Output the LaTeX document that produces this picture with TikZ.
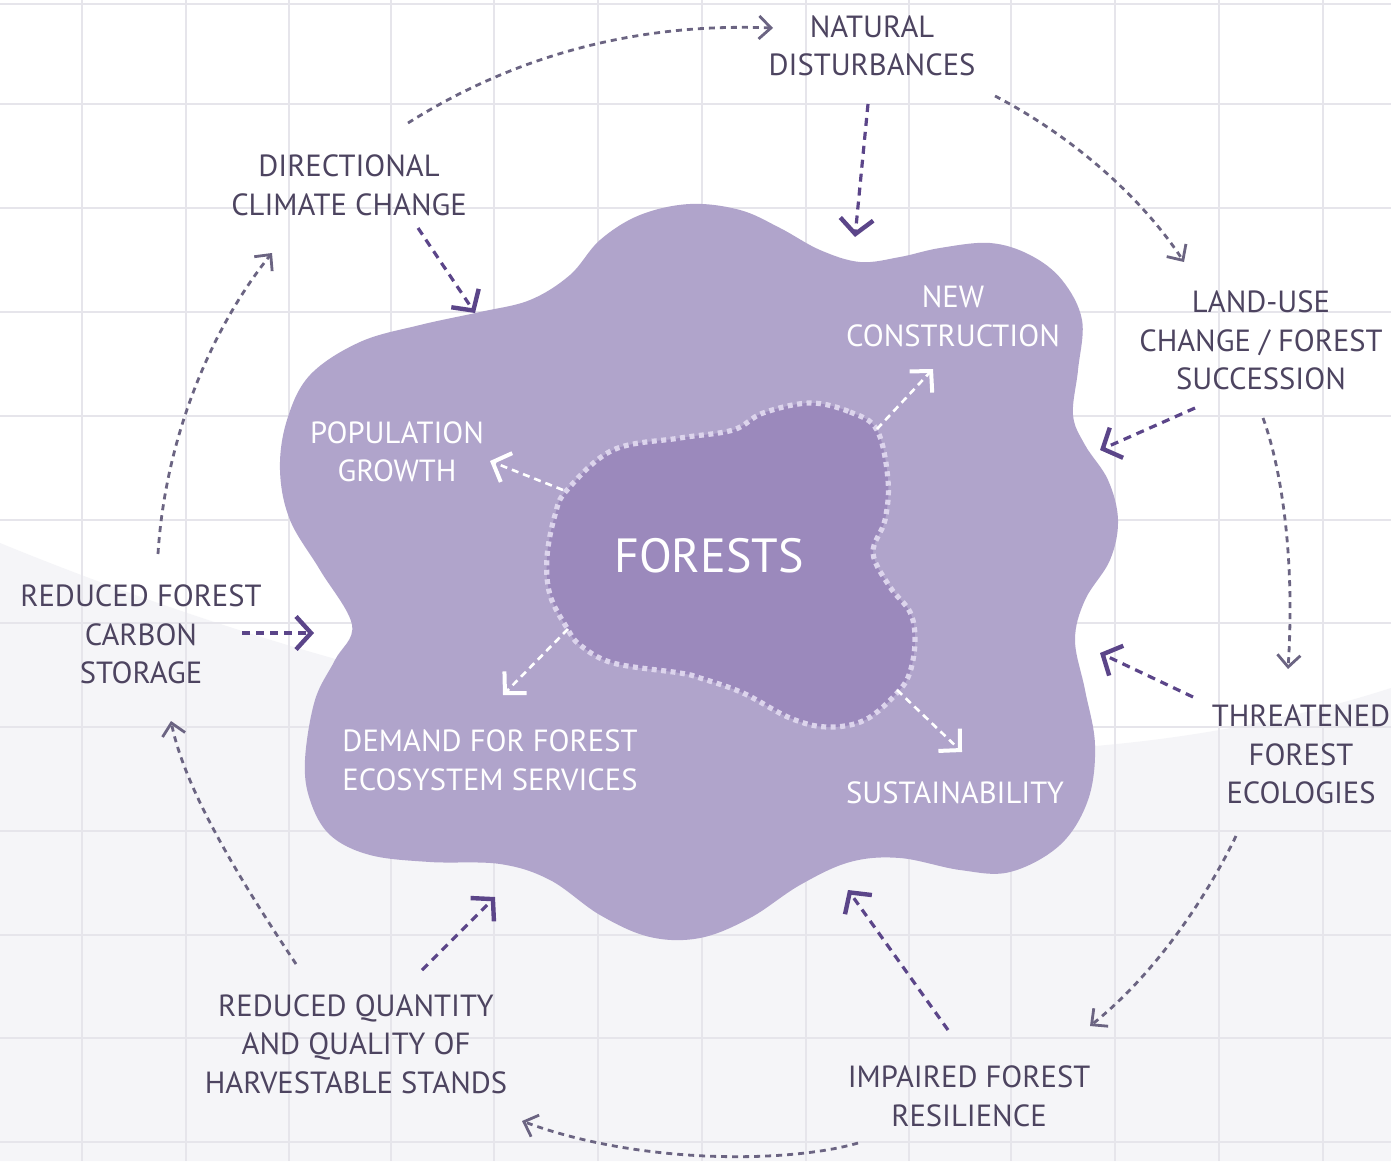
\documentclass[tikz,border=0pt]{standalone}
\usepackage{fontspec}
\setmainfont{PT Sans}
\usetikzlibrary{arrows.meta}
\definecolor{txtdark}{HTML}{4D4460}
\definecolor{heavyc}{HTML}{5B4589}
\definecolor{lightc}{HTML}{6B6482}
\definecolor{blobc}{HTML}{B0A4CB}
\definecolor{innerc}{HTML}{9B89BC}
\definecolor{dotc}{HTML}{DCD4EC}
\definecolor{gridc}{HTML}{E6E5EB}
\definecolor{grayc}{HTML}{F5F5F8}
\tikzset{
  lbl/.style={text=txtdark, align=center, inner sep=0pt, font=\fontsize{30.6}{38.5}\selectfont},
  wlbl/.style={text=white, align=center, inner sep=0pt, font=\fontsize{30.6}{38.5}\selectfont},
  heavyarrow/.style={draw=heavyc, line width=3.2pt, dash pattern=on 8pt off 6pt,
    -{Straight Barb[length=15pt,width=33pt,line width=4.4pt]}},
  cyclearrow/.style={draw=lightc, line width=2.8pt, dash pattern=on 6pt off 5pt,
    -{Straight Barb[length=12pt,width=23pt,line width=2.8pt]}},
  whitearrow/.style={draw=white, line width=2.6pt, dash pattern=on 7pt off 5pt,
    -{Straight Barb[length=15pt,width=31pt,line width=4pt]}},
  gridline/.style={draw=gridc, line width=1.6pt}
}
\begin{document}
\begin{tikzpicture}[x=1pt,y=-1pt]
\useasboundingbox (0,0) rectangle (1391,1161);
\fill[white] (0,0) rectangle (1391,1161);
% lower grey area
\fill[grayc] (0,543) .. controls (420,715) and (950,830) .. (1391,688) -- (1391,1161) -- (0,1161) -- cycle;
% grid
\foreach \gx in {82,186,289,391,494,598,702,806,909,1011,1115,1219,1323}
  \draw[gridline] (\gx,0) -- (\gx,1161);
\foreach \gy in {4,104,208,312,416,520,623,727,831,935,1038,1142}
  \draw[gridline] (0,\gy) -- (1391,\gy);
% outer blob
\fill[blobc] plot[smooth cycle, tension=0.6] coordinates {
 (690,204) (740,210) (780,228) (820,250) (860,262) (900,257) (940,248) (990,243)
 (1030,255) (1062,280) (1082,320) (1078,370) (1073,415) (1085,445) (1108,480)
 (1118,520) (1110,560) (1085,600) (1075,640) (1085,690) (1095,745) (1088,800)
 (1060,845) (1010,872) (960,870) (900,858) (850,862) (800,885) (750,918)
 (700,938) (650,937) (600,915) (550,880) (500,864) (430,862) (370,855)
 (330,835) (310,800) (305,760) (315,700) (335,660) (352,625) (320,570)
 (290,520) (280,470) (287,420) (310,375) (360,342) (420,325) (480,312)
 (530,300) (570,275) (600,240) (640,215)};
% inner blob
\fill[innerc] plot[smooth cycle, tension=0.6] coordinates {
 (810,403) (850,412) (877,430) (888,480) (885,520) (873,553) (890,587)
 (910,612) (915,640) (910,672) (897,693) (865,720) (827,727) (790,718)
 (743,693) (700,678) (680,673) (613,663) (580,645) (567,628) (550,595)
 (547,557) (555,515) (567,490) (613,450) (680,438) (733,430) (763,413)};
\draw[dotc, line width=5.2pt, dash pattern=on 5pt off 4.5pt] plot[smooth cycle, tension=0.6] coordinates {
 (810,403) (850,412) (877,430) (888,480) (885,520) (873,553) (890,587)
 (910,612) (915,640) (910,672) (897,693) (865,720) (827,727) (790,718)
 (743,693) (700,678) (680,673) (613,663) (580,645) (567,628) (550,595)
 (547,557) (555,515) (567,490) (613,450) (680,438) (733,430) (763,413)};

% labels
\node[lbl] (nat) at (872,46) {NATURAL\\DISTURBANCES};
\node[lbl] (dir) at (349,185.5) {DIRECTIONAL\\CLIMATE CHANGE};
\node[lbl] (land) at (1261,340.5) {LAND-USE\\CHANGE / FOREST\\SUCCESSION};
\node[lbl] (thr) at (1301,754.5) {THREATENED\\FOREST\\ECOLOGIES};
\node[lbl] (imp) at (969,1096.5) {IMPAIRED FOREST\\RESILIENCE};
\node[lbl] (harv) at (356,1044) {REDUCED QUANTITY\\AND QUALITY OF\\HARVESTABLE STANDS};
\node[lbl] (carb) at (141,634.5) {REDUCED FOREST\\CARBON\\STORAGE};
\node[wlbl] (newc) at (953,316.5) {NEW\\CONSTRUCTION};
\node[wlbl] (pop) at (397,452) {POPULATION\\GROWTH};
\node[wlbl] (dem) at (490,760.5) {DEMAND FOR FOREST\\ECOSYSTEM SERVICES};
\node[wlbl] (sus) at (955,793) {SUSTAINABILITY};
\node[text=white, inner sep=0pt, font=\fontsize{48}{56}\selectfont] (for) at (709,556) {FORESTS};

% connector end points
\coordinate (natS) at (868,104);  \coordinate (natT) at (855,237);
\coordinate (dirS) at (418,228);  \coordinate (dirT) at (475,313);
\coordinate (landS) at (1195,408); \coordinate (landT) at (1100,450);
\coordinate (thrS) at (1193,697); \coordinate (thrT) at (1100,653);
\coordinate (impS) at (948,1030); \coordinate (impT) at (848,890);
\coordinate (harvS) at (422,970); \coordinate (harvT) at (495,897);
\coordinate (carbS) at (242,633); \coordinate (carbT) at (314,633);

\draw[heavyarrow] (natS) -- (natT);
\draw[heavyarrow] (dirS) -- (dirT);
\draw[heavyarrow] (landS) -- (landT);
\draw[heavyarrow] (thrS) -- (thrT);
\draw[heavyarrow] (impS) -- (impT);
\draw[heavyarrow] (harvS) -- (harvT);
\draw[heavyarrow] (carbS) -- (carbT);

% cycle arrows
\coordinate (c1S) at (408,123); \coordinate (c1T) at (773,28);
\coordinate (c2S) at (995,96);  \coordinate (c2T) at (1184,262);
\coordinate (c3S) at (1263,418); \coordinate (c3T) at (1288,669);
\coordinate (c4S) at (1236,836); \coordinate (c4T) at (1090,1026);
\coordinate (c5S) at (858,1143); \coordinate (c5T) at (522,1121);
\coordinate (c6S) at (296,964); \coordinate (c6T) at (171,721);
\coordinate (c7S) at (158,554); \coordinate (c7T) at (272,253);
\draw[cyclearrow] (c1S) .. controls (500,65) and (620,22) .. (c1T);
\draw[cyclearrow] (c2S) .. controls (1070,135) and (1140,195) .. (c2T);
\draw[cyclearrow] (c3S) .. controls (1282,470) and (1295,560) .. (c3T);
\draw[cyclearrow] (c4S) .. controls (1210,890) and (1160,970) .. (c4T);
\draw[cyclearrow] (c5S) .. controls (790,1163) and (640,1165) .. (c5T);
\draw[cyclearrow] (c6S) .. controls (240,880) and (185,790) .. (c6T);
\draw[cyclearrow] (c7S) .. controls (165,440) and (210,330) .. (c7T);

% white arrows from the core
\coordinate (w1S) at (877,429); \coordinate (w1T) at (933,369);
\coordinate (w2S) at (563,490); \coordinate (w2T) at (490,461);
\coordinate (w3S) at (568,629); \coordinate (w3T) at (503,695);
\coordinate (w4S) at (897,690); \coordinate (w4T) at (962,752);
\draw[whitearrow] (w1S) -- (w1T);
\draw[whitearrow] (w2S) -- (w2T);
\draw[whitearrow] (w3S) -- (w3T);
\draw[whitearrow] (w4S) -- (w4T);
\end{tikzpicture}
\end{document}
